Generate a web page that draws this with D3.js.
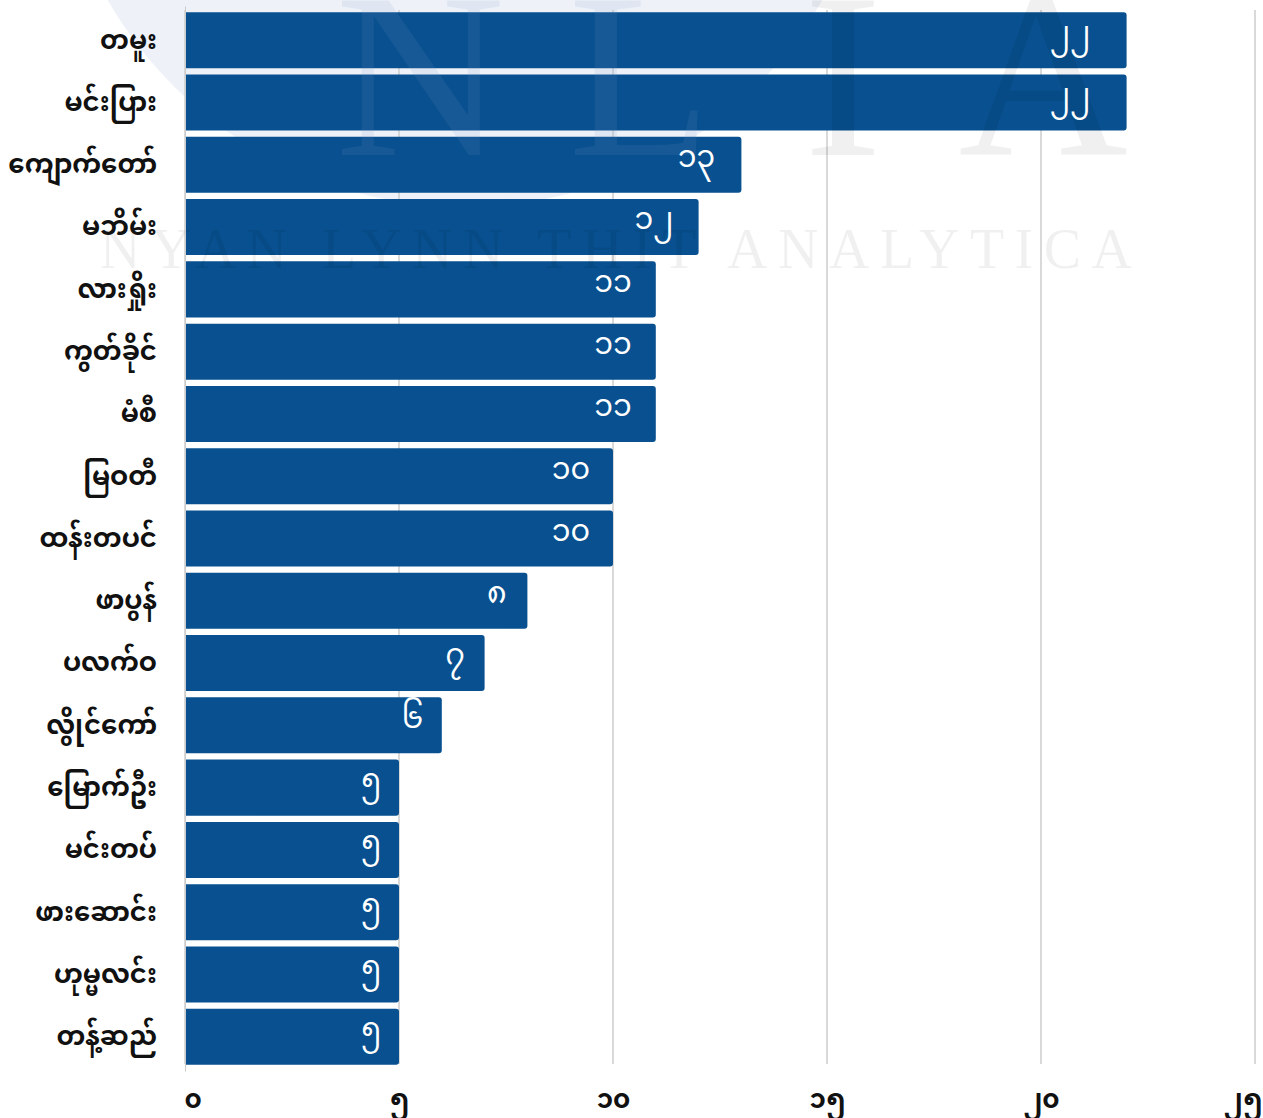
<!DOCTYPE html>
<html>
<head>
<meta charset="utf-8">
<script src="https://cdn.jsdelivr.net/npm/d3@7"></script>
<style>
  body { margin: 0; background: #fff; }
  svg { display: block; }
</style>
</head>
<body>
<div id="chart"></div>
<script>
var townships = ["တမူး", "မင်းပြား", "ကျောက်တော်", "မဘိမ်း", "လားရှိုး", "ကွတ်ခိုင်", "မံစီ",
                 "မြဝတီ", "ထန်းတပင်", "ဖာပွန်", "ပလက်ဝ", "လွိုင်ကော်", "မြောက်ဦး", "မင်းတပ်",
                 "ဖားဆောင်း", "ဟုမ္မလင်း", "တန့်ဆည်"];
var counts = [22, 22, 13, 12, 11, 11, 11, 10, 10, 8, 7, 6, 5, 5, 5, 5, 5];
var ticks = [0, 5, 10, 15, 20, 25];
var mmDigits = ["၀", "၁", "၂", "၃", "၄", "၅", "၆", "၇", "၈", "၉"];

function mm(n) {
  return String(n).split("").map(function(c) { return mmDigits[+c]; }).join("");
}

(function(){
  var width = 1263,
      height = 1118,
      margin = {top: 6, right: 8, bottom: 47, left: 185},
      barColor = "#08508f",
      fontMm = "'Noto Sans Myanmar', 'Padauk', 'Myanmar Text', 'Noto Sans', sans-serif";

  var data = townships.map(function(t, i) { return {name: t, value: counts[i]}; });

  var svg = d3.select("#chart").append("svg")
      .attr("width", width)
      .attr("height", height);

  var x = d3.scaleLinear()
      .domain([0, 25])
      .range([margin.left, 1255]);

  var y = d3.scaleBand()
      .domain(townships)
      .range([margin.top, height - margin.bottom])
      .padding(0.1);

  // watermark disc behind everything
  svg.append("circle")
      .attr("cx", 465).attr("cy", -205).attr("r", 412)
      .attr("fill", "#eef2f8");

  // gridlines
  svg.append("g")
      .selectAll("line")
      .data(ticks)
      .enter().append("line")
      .attr("x1", function(d) { return x(d); })
      .attr("x2", function(d) { return x(d); })
      .attr("y1", 10)
      .attr("y2", y.range()[1] - 7)
      .attr("stroke", "#cccccc")
      .attr("stroke-width", 1.5);

  // bars, square on the left and rounded on the right
  function barPath(d) {
    var x0 = x(0), x1 = x(d.value), y0 = y(d.name), h = y.bandwidth(), r = 3;
    return "M" + x0 + "," + y0 +
           "H" + (x1 - r) +
           "Q" + x1 + "," + y0 + " " + x1 + "," + (y0 + r) +
           "V" + (y0 + h - r) +
           "Q" + x1 + "," + (y0 + h) + " " + (x1 - r) + "," + (y0 + h) +
           "H" + x0 + "Z";
  }

  svg.append("g")
      .selectAll("path")
      .data(data)
      .enter().append("path")
      .attr("d", barPath)
      .attr("fill", barColor);

  // watermark letters over the bars, faint
  var letters = [{t: "N", x: 420, c: "#7c9bc8", o: 0.13},
                 {t: "L", x: 640, c: "#7c9bc8", o: 0.13},
                 {t: "I", x: 843, c: "#000000", o: 0.06},
                 {t: "A", x: 1043, c: "#000000", o: 0.06}];
  svg.append("g")
      .selectAll("text")
      .data(letters)
      .enter().append("text")
      .attr("x", function(d) { return d.x; })
      .attr("y", 155)
      .attr("text-anchor", "middle")
      .style("font-family", "'Liberation Serif', serif")
      .style("font-size", "235px")
      .attr("fill", function(d) { return d.c; })
      .attr("fill-opacity", function(d) { return d.o; })
      .text(function(d) { return d.t; });

  svg.append("text")
      .attr("x", 100)
      .attr("y", 268)
      .attr("textLength", 1032)
      .attr("lengthAdjust", "spacing")
      .style("font-family", "'Liberation Serif', serif")
      .style("font-size", "56px")
      .attr("fill", "#000000")
      .attr("fill-opacity", 0.06)
      .text("NYAN LYNN THIT ANALYTICA");

  // value labels
  svg.append("g")
      .selectAll("text")
      .data(data)
      .enter().append("text")
      .attr("x", function(d) { return x(d.value) - (12 + 1.1 * d.value); })
      .attr("y", function(d) { return y(d.name) + y.bandwidth() / 2; })
      .attr("dy", "0.08em")
      .attr("text-anchor", "end")
      .style("font-family", fontMm)
      .style("font-size", "30px")
      .attr("fill", "#ffffff")
      .text(function(d) { return mm(d.value); });

  // category labels
  var yAxis = d3.axisLeft(y).tickSize(0).tickPadding(28);
  var gy = svg.append("g")
      .attr("transform", "translate(" + margin.left + ",0)")
      .call(yAxis);
  gy.select(".domain").attr("stroke", "#cccccc");
  gy.selectAll("text")
      .style("font-family", fontMm)
      .style("font-size", "26px")
      .style("font-weight", "bold")
      .attr("fill", "#111111");

  // x axis tick labels; the outer ones are kept inside the frame
  var xAxis = d3.axisBottom(x).tickValues(ticks).tickSize(0).tickPadding(0).tickFormat(mm);
  var gx = svg.append("g")
      .attr("transform", "translate(0,1090)")
      .call(xAxis);
  gx.select(".domain").remove();
  gx.selectAll("text")
      .style("font-family", fontMm)
      .style("font-size", "26px")
      .style("font-weight", "bold")
      .attr("fill", "#111111");
  gx.selectAll(".tick").filter(function(d) { return d === 0; })
      .select("text").attr("text-anchor", "start").attr("x", -1);
  gx.selectAll(".tick").filter(function(d) { return d === 25; })
      .select("text").attr("text-anchor", "end").attr("x", 7);
})();
</script>
</body>
</html>
